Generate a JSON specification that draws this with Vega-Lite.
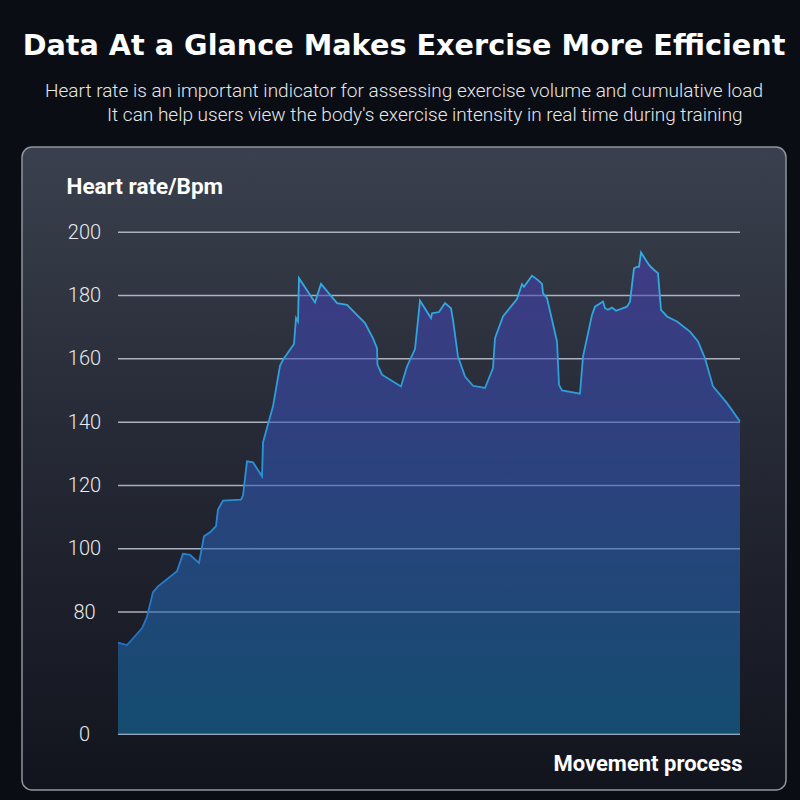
{
  "$schema": "https://vega.github.io/schema/vega-lite/v6.json",
  "width": 764,
  "height": 643,
  "autosize": {"type": "none"},
  "padding": {"left": 22, "top": 147, "right": 14, "bottom": 10},
  "background": "#0a0d13",
  "view": {
    "cornerRadius": 10,
    "stroke": "#8e949e",
    "strokeWidth": 1.5,
    "fill": {"gradient": "linear", "x1": 0, "y1": 0, "x2": 0, "y2": 1,
      "stops": [{"offset": 0, "color": "#3a404d"}, {"offset": 0.45, "color": "#262a36"}, {"offset": 1, "color": "#12141d"}]}
  },
  "title": {
    "text": "Data At a Glance Makes Exercise More Efficient",
    "subtitle": ["Heart rate is an important indicator for assessing exercise volume and cumulative load", "\u200b\u00a0\u00a0\u00a0\u00a0\u00a0\u00a0\u00a0\u00a0\u00a0It can help users view the body's exercise intensity in real time during training"],
    "anchor": "middle",
    "frame": "group",
    "font": "DejaVu Sans",
    "fontSize": 28.7,
    "fontWeight": "bold",
    "color": "#ffffff",
    "subtitleFont": "Roboto",
    "subtitleFontSize": 19,
    "subtitleFontWeight": 300,
    "subtitleColor": "#e6e8ec",
    "subtitleLineHeight": 24,
    "subtitlePadding": 21,
    "offset": 22
  },
  "datasets": {
    "grid": [{"v": 0}, {"v": 80}, {"v": 100}, {"v": 120}, {"v": 140}, {"v": 160}, {"v": 180}, {"v": 200}],
    "hr": [
      {"t": 0, "v": 60}, {"t": 9, "v": 58.4}, {"t": 24, "v": 69.3}, {"t": 29, "v": 76.9}, {"t": 35, "v": 86.3},
      {"t": 40, "v": 88.1}, {"t": 59, "v": 92.9}, {"t": 65, "v": 98.4}, {"t": 72, "v": 98.1}, {"t": 81, "v": 95.5},
      {"t": 86, "v": 103.9}, {"t": 92, "v": 105.2}, {"t": 98, "v": 107.1}, {"t": 100, "v": 112.4}, {"t": 105, "v": 115.2},
      {"t": 123, "v": 115.5}, {"t": 125, "v": 116.8}, {"t": 129, "v": 127.6}, {"t": 135, "v": 127.3}, {"t": 144, "v": 122.9},
      {"t": 145, "v": 133.6}, {"t": 155, "v": 145}, {"t": 162, "v": 157.8}, {"t": 165, "v": 159.7}, {"t": 176, "v": 164.7},
      {"t": 178, "v": 172.9}, {"t": 180, "v": 171.8}, {"t": 181, "v": 185.5}, {"t": 197, "v": 177.8}, {"t": 203, "v": 183.7},
      {"t": 219, "v": 177.6}, {"t": 229, "v": 177.1}, {"t": 247, "v": 171.3}, {"t": 255, "v": 166.5}, {"t": 259, "v": 163.4},
      {"t": 259.5, "v": 158.1}, {"t": 264, "v": 155}, {"t": 283, "v": 151.3}, {"t": 289, "v": 157.6}, {"t": 297, "v": 163.1},
      {"t": 302, "v": 178.4}, {"t": 313, "v": 172.9}, {"t": 314, "v": 174.4}, {"t": 321, "v": 174.8}, {"t": 327, "v": 177.6},
      {"t": 333, "v": 176}, {"t": 335, "v": 172.3}, {"t": 340, "v": 160.7}, {"t": 347, "v": 154.4}, {"t": 355, "v": 151.5},
      {"t": 367, "v": 150.8}, {"t": 375, "v": 157.1}, {"t": 377, "v": 166.5}, {"t": 385, "v": 173.4}, {"t": 399, "v": 178.9},
      {"t": 404, "v": 183.6}, {"t": 406, "v": 182.8}, {"t": 414, "v": 186.3}, {"t": 420, "v": 184.9}, {"t": 424, "v": 183.7},
      {"t": 425, "v": 180.7}, {"t": 429, "v": 179.2}, {"t": 439, "v": 165.5}, {"t": 441, "v": 151.8}, {"t": 444, "v": 150},
      {"t": 462, "v": 149}, {"t": 465, "v": 160.7}, {"t": 474, "v": 173.9}, {"t": 477, "v": 176.5}, {"t": 485, "v": 178.1},
      {"t": 487, "v": 176}, {"t": 490, "v": 175.5}, {"t": 494, "v": 176.2}, {"t": 498, "v": 175.2}, {"t": 509, "v": 176.5},
      {"t": 512, "v": 178.1}, {"t": 516, "v": 188.6}, {"t": 519, "v": 189.1}, {"t": 521, "v": 189.1}, {"t": 523, "v": 193.6},
      {"t": 531, "v": 189.7}, {"t": 536, "v": 188.1}, {"t": 540, "v": 187.1}, {"t": 543, "v": 175.5}, {"t": 549, "v": 173.4},
      {"t": 559, "v": 171.8}, {"t": 572, "v": 168.6}, {"t": 580, "v": 165.5}, {"t": 587, "v": 160.2}, {"t": 595, "v": 151.3},
      {"t": 609, "v": 146}, {"t": 622, "v": 140.2}
    ]
  },
  "layer": [
    {
      "data": {"name": "grid"},
      "mark": {"type": "rule", "stroke": "#c2c8d4", "strokeWidth": 1.5, "strokeOpacity": 0.85},
      "encoding": {
        "x": {"datum": 0, "type": "quantitative", "scale": {"domain": [0, 622], "range": [96, 718], "nice": false, "zero": false}},
        "x2": {"datum": 622},
        "y": {"field": "v", "type": "quantitative", "scale": {"domain": [0, 80, 200], "range": [587.3, 465, 85.3], "nice": false, "zero": false},
          "axis": {"values": [0, 80, 100, 120, 140, 160, 180, 200], "domain": false, "ticks": false, "tickSize": 0, "grid": false,
            "offset": -96, "labelPadding": 34, "labelAlign": "center", "labelBaseline": "middle",
            "labelFont": "Roboto", "labelFontSize": 20, "labelFontWeight": 300, "labelColor": "#e8eaee",
            "title": "Heart rate/Bpm", "titleAngle": 0, "titleX": -52, "titleY": 46, "titleAlign": "left", "titleBaseline": "alphabetic",
            "titleFont": "Roboto", "titleFontSize": 22.5, "titleFontWeight": "bold", "titleColor": "#ffffff"}}
      }
    },
    {
      "data": {"name": "hr"},
      "mark": {
        "type": "area",
        "fillOpacity": 0.55,
        "fill": {"gradient": "linear", "x1": 0, "y1": 0, "x2": 0, "y2": 1,
          "stops": [{"offset": 0, "color": "#4a3db8"}, {"offset": 0.45, "color": "#3157bb"}, {"offset": 1, "color": "#1478b2"}]}
      },
      "encoding": {
        "x": {"field": "t", "type": "quantitative",
          "axis": {"title": "Movement process", "labels": false, "ticks": false, "domain": false, "grid": false,
            "titleFont": "Roboto", "titleFontSize": 22, "titleFontWeight": "bold", "titleColor": "#ffffff",
            "titleX": 720, "titleY": -20, "titleAlign": "right", "titleBaseline": "alphabetic"}},
        "y": {"field": "v", "type": "quantitative"}
      }
    },
    {
      "data": {"name": "hr"},
      "mark": {
        "type": "line",
        "strokeWidth": 1.8,
        "stroke": {"gradient": "linear", "x1": 0, "y1": 0, "x2": 0, "y2": 1,
          "stops": [{"offset": 0, "color": "#33aee0"}, {"offset": 0.6, "color": "#2a8fd6"}, {"offset": 1, "color": "#2470c6"}]}
      },
      "encoding": {
        "x": {"field": "t", "type": "quantitative"},
        "y": {"field": "v", "type": "quantitative"}
      }
    }
  ]
}
